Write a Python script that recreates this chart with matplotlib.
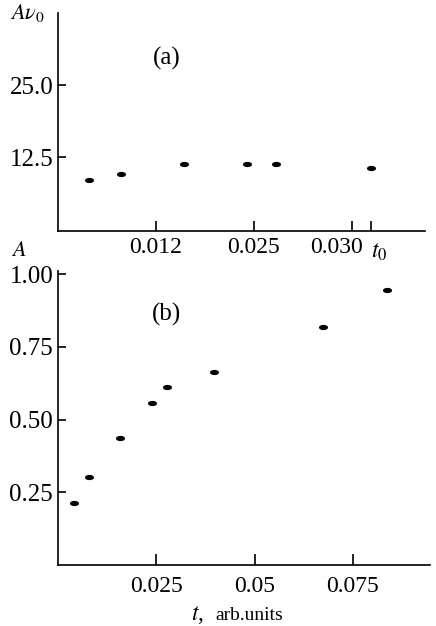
import matplotlib
matplotlib.use('Agg')
import matplotlib.pyplot as plt
import matplotlib.transforms as mtransforms
import numpy as np

plt.rcParams['font.family'] = ['Liberation Serif', 'DejaVu Serif']
plt.rcParams['mathtext.fontset'] = 'stix'

# panel (a): t0 positions are in tick-spacing units (axis is not linear in t0)
a_tick_pos = [1, 2, 3]
a_tick_labels = ['0.012', '0.025', '0.030']
a_x = [0.32, 0.64, 1.29, 1.93, 2.22, 3.19]
a_y = [8.5, 9.5, 11.3, 11.35, 11.35, 10.6]
a_yticks = [12.5, 25.0]

# panel (b)
b_t = [0.0041, 0.0080, 0.0158, 0.0239, 0.0278, 0.0396, 0.0673, 0.0837]
b_A = [0.212, 0.302, 0.437, 0.556, 0.612, 0.663, 0.818, 0.946]
b_xticks = [0.025, 0.05, 0.075]
b_xtick_labels = ['0.025', '0.05', '0.075']
b_yticks = [0.25, 0.50, 0.75, 1.00]

theta = np.linspace(0, 2 * np.pi, 40)
ellipse = np.column_stack([np.cos(theta), 0.5 * np.sin(theta)])


def style_axis(ax, xpad):
    ax.spines['top'].set_visible(False)
    ax.spines['right'].set_visible(False)
    for s in ['left', 'bottom']:
        ax.spines[s].set_linewidth(1.2)
    ax.tick_params(axis='y', direction='in', length=6, width=1.2, pad=3.5, labelsize=18)
    ax.tick_params(axis='x', direction='in', length=7, width=1.2, pad=xpad, labelsize=17)


fig = plt.figure(figsize=(4.36, 6.26), dpi=100)

ax1 = fig.add_axes([58 / 436, 395 / 626, 367 / 436, 218 / 626])
ax1.plot(a_x, a_y, linestyle='none', marker=ellipse, markersize=5.5, color='black')
ax1.set_xlim(0, 3.745)
ax1.set_ylim(-0.3, 37.5)
ax1.set_yticks(a_yticks)
ax1.set_yticklabels(['12.5', '25.0'])
ax1.set_xticks(a_tick_pos + [3.19])
ax1.set_xticklabels(a_tick_labels + [''])
style_axis(ax1, 4.5)
lbl = ax1.get_xticklabels()[2]
lbl.set_transform(lbl.get_transform() + mtransforms.ScaledTranslation(-0.15, 0, fig.dpi_scale_trans))
ax1.text(0.297, 0.79, '(a)', transform=ax1.transAxes, fontsize=18, ha='center', va='center')

ax2 = fig.add_axes([58 / 436, 61 / 626, 372 / 436, 294.3 / 626])
ax2.plot(b_t, b_A, linestyle='none', marker=ellipse, markersize=5.5, color='black')
ax2.set_xlim(0, 0.0946)
ax2.set_ylim(0, 1.012)
ax2.set_yticks(b_yticks)
ax2.set_yticklabels(['0.25', '0.50', '0.75', '1.00'])
ax2.set_xticks(b_xticks)
ax2.set_xticklabels(b_xtick_labels)
style_axis(ax2, 8)
ax2.tick_params(axis='x', length=8)
ax2.text(0.293, 0.85, '(b)', transform=ax2.transAxes, fontsize=18, ha='center', va='center')

fig.text(10 / 436, 1 - 19 / 626, r'$A\nu_0$', fontsize=16, ha='left', va='baseline')
fig.text(11 / 436, 1 - 256 / 626, r'$A$', fontsize=16, ha='left', va='baseline')
fig.text(371 / 436, 1 - 258 / 626, r'$t_0$', fontsize=17, ha='left', va='baseline')
fig.text(191 / 436, 1 - 620 / 626, r'$t$,', fontsize=17, ha='left', va='baseline')
fig.text(215 / 436, 1 - 620 / 626, 'arb.units', fontsize=14, ha='left', va='baseline')

fig.savefig('out.png', dpi=100)
